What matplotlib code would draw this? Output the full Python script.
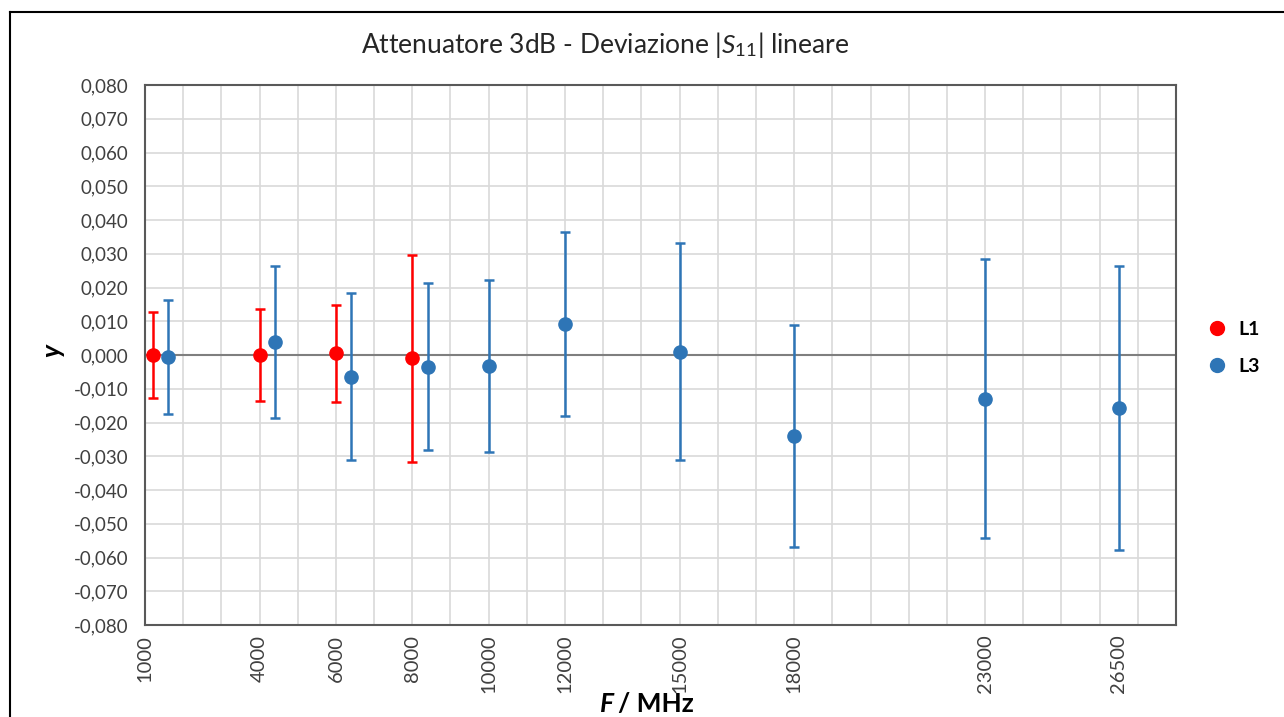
"""Attenuatore 3dB - deviazione |S11| lineare, L1 vs L3."""

import matplotlib

matplotlib.use("Agg")
import matplotlib.pyplot as plt
import matplotlib.ticker as mticker
from matplotlib.lines import Line2D

plt.rcParams["font.family"] = ["Lato", "DejaVu Sans"]
plt.rcParams["mathtext.fontset"] = "custom"
plt.rcParams["mathtext.rm"] = "Lato"
plt.rcParams["mathtext.it"] = "Lato:italic"

# --- dati ---
f_l1 = [1200, 4000, 6000, 8000]
y_l1 = [0.0000, 0.0000, 0.0005, -0.0010]
u_l1 = [0.0127, 0.0135, 0.0143, 0.0306]

f_l3 = [1600, 4400, 6400, 8400, 10000, 12000, 15000, 18000, 23000, 26500]
y_l3 = [-0.0006, 0.0039, -0.0064, -0.0035, -0.0033, 0.0091, 0.0010, -0.0240, -0.0130, -0.0158]
u_l3 = [0.0169, 0.0225, 0.0247, 0.0247, 0.0255, 0.0272, 0.0322, 0.0329, 0.0413, 0.0421]

x_ticks = [1000, 4000, 6000, 8000, 10000, 12000, 15000, 18000, 23000, 26500]

RED = "#FF0000"
BLUE = "#2E75B6"

fig = plt.figure(figsize=(12.84, 7.17), dpi=100)
ax = fig.add_axes([145 / 1284, 1 - 625 / 717, (1176 - 145) / 1284, (625 - 85) / 717])

# griglia
for xv in range(1000, 28001, 1000):
    ax.axvline(xv, color="#D9D9D9", lw=1.2, zorder=0)
for yv in [i / 100 for i in range(-8, 9)]:
    ax.axhline(yv, color="#D9D9D9", lw=1.2, zorder=0)
ax.axhline(0, color="#7F7F7F", lw=1.5, zorder=1)

ax.errorbar(f_l1, y_l1, yerr=u_l1, fmt="o", color=RED, ms=9.5, elinewidth=1.8,
            capsize=3.8, capthick=1.8, zorder=3, label="L1")
ax.errorbar(f_l3, y_l3, yerr=u_l3, fmt="o", color=BLUE, ms=9.5, elinewidth=1.8,
            capsize=3.8, capthick=1.8, zorder=3, label="L3")

ax.set_xlim(1000, 28000)
ax.set_ylim(-0.08, 0.08)
ax.set_xticks(x_ticks)
ax.set_xticklabels([str(v) for v in x_ticks], rotation=90, fontsize=14.5, color="#404040")
ax.yaxis.set_major_locator(mticker.MultipleLocator(0.01))
ax.yaxis.set_major_formatter(
    mticker.FuncFormatter(lambda v, _: f"{v:.3f}".replace(".", ",").replace("-0,000", "0,000"))
)
ax.tick_params(axis="y", labelsize=13.5, labelcolor="#404040", length=0, pad=12)
ax.tick_params(axis="x", length=0, pad=7)
for s in ax.spines.values():
    s.set_color("#595959")
    s.set_linewidth(1.5)

fig.text(605 / 1284, 1 - 45 / 717, r"Attenuatore 3dB - Deviazione $|S_{11}|$ lineare",
         ha="center", va="center", fontsize=19, color="#262626")
fig.text(52 / 1284, 1 - 350 / 717, "y", rotation=90, ha="center", va="center",
         fontsize=19, fontweight="bold", fontstyle="italic")
fig.text(614 / 1284, 1 - 704 / 717, "F", ha="right", va="center", fontsize=19,
         fontweight="bold", fontstyle="italic")
fig.text(618 / 1284, 1 - 704 / 717, "/ MHz", ha="left", va="center", fontsize=19,
         fontweight="bold")

leg = fig.legend(handles=[
    Line2D([], [], marker="o", ls="", color=RED, ms=10, label="L1"),
    Line2D([], [], marker="o", ls="", color=BLUE, ms=10, label="L3"),
], loc="center left", bbox_to_anchor=(1180 / 1284, 1 - 348 / 717), frameon=False,
    handletextpad=0.1, labelspacing=1.0, prop={"weight": "bold", "size": 14})

# bordo del riquadro (screenshot ritagliato)
fig.add_artist(Line2D([10 / 1284, 10 / 1284], [0, 1 - 12 / 717], color="black", lw=1.5))
fig.add_artist(Line2D([10 / 1284, 1], [1 - 12 / 717, 1 - 12 / 717], color="black", lw=1.5))

fig.savefig("out.png", dpi=100)
